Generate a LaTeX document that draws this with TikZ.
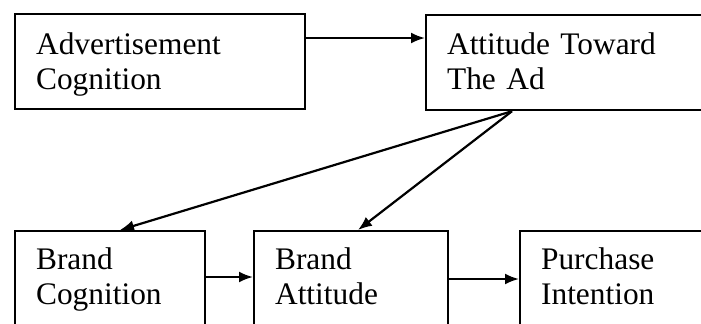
\documentclass[tikz,border=0pt]{standalone}
\usepackage{fontspec}
\setmainfont{Liberation Serif}
\usetikzlibrary{arrows.meta}
\tikzset{
  box/.style={draw, line width=2.2bp, anchor=north west, inner xsep=21bp,
    inner ysep=0pt, align=left, font=\fontsize{31.5}{36}\selectfont},
  link/.style={line width=2.2bp, -{Latex[length=14bp,width=11bp]}}
}
\begin{document}
\begin{tikzpicture}[x=1bp,y=-1bp]
\useasboundingbox (0,0) rectangle (701,323);
\clip (0,0) rectangle (701,323);
% top row
\node [box, text width=248bp, text height=40bp, text depth=55bp] (adcog) at (14,13) {Advertisement\\Cognition};
\node [box, text width=248bp, text height=39bp, text depth=56bp] (attad) at (425,14) {Attitude Toward\\The Ad};
% bottom row
\node [box, text width=148bp, text height=38bp, text depth=100bp] (brcog) at (14,230) {Brand\\Cognition};
\node [box, text width=152bp, text height=38bp, text depth=100bp] (bratt) at (253,230) {Brand\\Attitude};
\node [box, text width=152bp, text height=38bp, text depth=100bp] (purint) at (519,230) {Purchase\\Intention};
% arrows
\coordinate (adout) at ([yshift=-25bp]adcog.north east);
\draw [link] (adout) -- (adout -| attad.west);
\coordinate (bcout) at ([yshift=-47bp]brcog.north east);
\draw [link] (bcout) -- (bcout -| bratt.west);
\coordinate (baout) at ([yshift=-49bp]bratt.north east);
\draw [link] (baout) -- (baout -| purint.west);
% from the ad attitude down
\coordinate (adroot) at ([xshift=87bp]attad.south west);
\draw [link] (adroot) -- ([xshift=106bp]brcog.north west);
\draw [link] (adroot) -- ([xshift=105bp]bratt.north west);
\end{tikzpicture}
\end{document}
